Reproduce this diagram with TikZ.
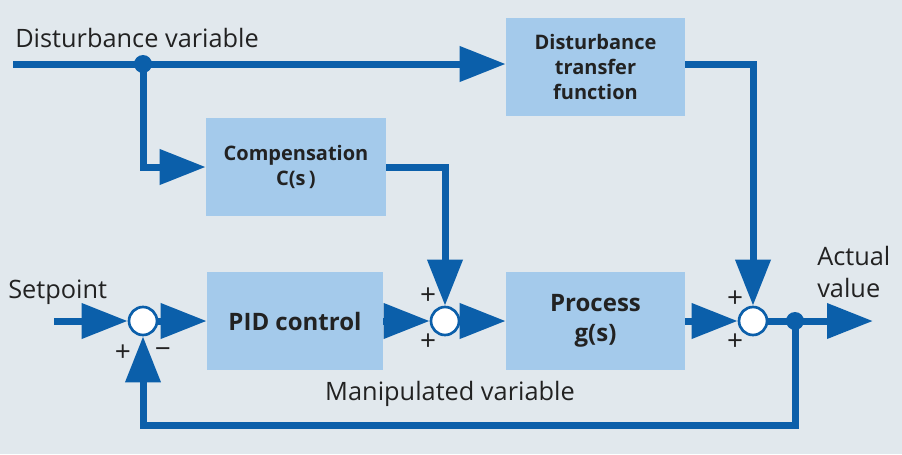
\documentclass[tikz,border=0pt]{standalone}
\usepackage{fontspec}
\setmainfont{Open Sans}
\usetikzlibrary{arrows.meta,calc}
\definecolor{bg}{HTML}{E1E8ED}
\definecolor{lineblue}{HTML}{0B5FAA}
\definecolor{boxblue}{HTML}{A4CAEB}
\definecolor{txt}{HTML}{222222}
\tikzset{
  blk/.style={fill=boxblue, draw=none, inner sep=0pt, align=center, text=txt, font=\bfseries\fontsize{15}{18.75}\selectfont},
  bigblk/.style={blk, font=\bfseries\fontsize{18}{22.5}\selectfont},
  sumc/.style={circle, fill=white, draw=lineblue, line width=2pt, minimum size=21pt, inner sep=0pt},
  jdot/.style={circle, fill=lineblue, minimum size=13.5pt, inner sep=0pt},
  sig/.style={draw=lineblue, line width=5.25pt, line join=miter},
  arr/.style={sig, -{Triangle[length=34.5pt,width=25.5pt]}},
  lbl/.style={text=txt, font=\fontsize{19}{24}\selectfont, inner sep=0pt},
  sgn/.style={text=txt, font=\fontsize{21}{21}\selectfont, inner sep=0pt},
}
\begin{document}
\begin{tikzpicture}[x=0.75pt,y=-0.75pt]
\fill[bg] (0,0) rectangle (902,454);
\useasboundingbox (0,0) rectangle (902,454);
% blocks
\node[blk, minimum width=134.25pt, minimum height=73.5pt] (dtf) at (595.5,67) {Disturbance\\transfer\\function};
\node[blk, minimum width=135pt, minimum height=73.5pt] (comp) at (296,167) {Compensation\\C(s\,)};
\node[bigblk, minimum width=132pt, minimum height=73.5pt] (pid) at (295,321) {PID control};
\node[bigblk, minimum width=134.25pt, minimum height=73.5pt] (proc) at (595.5,321) {Process\\g(s)};
% summing points
\node[sumc] (c1) at (143,321) {};
\node[sumc] (c2) at (445,321) {};
\node[sumc] (c3) at (753,321) {};
% coordinates
\coordinate (din) at (13,64);
\coordinate (j1) at (143,64);
\coordinate (j2) at (795,321);
\coordinate (sp) at (54,321);
\coordinate (out) at (873,321);
\coordinate (fb) at (795,425);
% connectors
\draw[arr] (din) -- (dtf.west |- din);
\draw[arr] (j1) |- (comp.west);
\draw[arr] (dtf.east |- din) -| (c3);
\draw[arr] (comp.east) -| (c2);
\draw[arr] (sp) -- (c1);
\draw[arr] (c1) -- (pid);
\draw[arr] (pid) -- (c2);
\draw[arr] (c2) -- (proc);
\draw[arr] (proc) -- (c3);
\draw[arr] (c3) -- (out);
\draw[arr] (j2) -- (fb) -| (c1);
\node[jdot] (d1) at (j1) {};
\node[jdot] (d2) at (j2) {};
% labels
\node[lbl, anchor=base west] (ldv) at (15,47) {Disturbance variable};
\node[lbl, anchor=base west] (lsp) at (8,298) {Setpoint};
\node[lbl, anchor=base west] (lact) at (817,265) {Actual};
\node[lbl, anchor=base west] (lval) at (817,297) {value};
\node[lbl, anchor=base] (lmv) at (450,400) {Manipulated variable};
% signs
\node[sgn] (s1a) at (123,353) {+};
\node[sgn] (s1b) at (163,353) {−};
\node[sgn] (s2a) at (428,296) {+};
\node[sgn] (s2b) at (428,342) {+};
\node[sgn] (s3a) at (735,299) {+};
\node[sgn] (s3b) at (735,342) {+};
\end{tikzpicture}
\end{document}
